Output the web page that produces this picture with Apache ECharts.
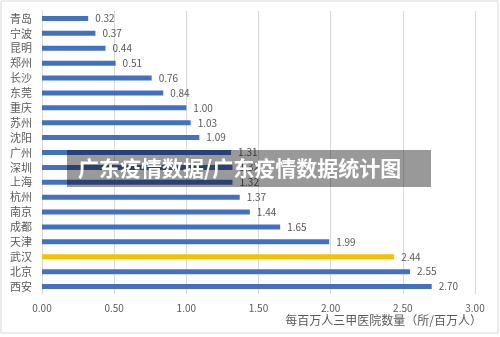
<!DOCTYPE html>
<html>
<head>
<meta charset="utf-8">
<script src="https://cdn.jsdelivr.net/npm/echarts@6/dist/echarts.min.js"></script>
<style>
  html, body { margin: 0; padding: 0; background: #fff; }
  #chart { width: 500px; height: 337px; }
</style>
</head>
<body>
<div id="chart"></div>
<script>
// Cities, top to bottom
const cities = ['青岛','宁波','昆明','郑州','长沙','东莞','重庆','苏州','沈阳','广州','深圳','上海','杭州','南京','成都','天津','武汉','北京','西安'];
// Grade-A tertiary hospitals per million residents
const hospitalsPerMillion = [0.32,0.37,0.44,0.51,0.76,0.84,1.00,1.03,1.09,1.31,1.32,1.32,1.37,1.44,1.65,1.99,2.44,2.55,2.70];
const highlightCity = '武汉';
const axisTitle = '每百万人三甲医院数量（所/百万人）';
const bannerTitle = '广东疫情数据/广东疫情数据统计图';

const BLUE = '#4371c0';
const GOLD = '#f7c000';
const TEXT = '#595959';
const FONT = '"Noto Sans CJK SC", "Noto Sans", sans-serif';

const chart = echarts.init(document.getElementById('chart'), null, { renderer: 'canvas' });

chart.setOption({
  animation: false,
  backgroundColor: '#fff',
  grid: { left: 42, right: 25, top: 11, bottom: 43, containLabel: false },
  xAxis: {
    type: 'value',
    min: 0, max: 3, interval: 0.5,
    axisLine: { show: false },
    axisTick: { show: false },
    splitLine: { show: true, lineStyle: { color: '#d9d9d9', width: 1 } },
    axisLabel: {
      color: TEXT, fontSize: 10, fontFamily: FONT, margin: 9,
      formatter: v => v.toFixed(2)
    }
  },
  yAxis: {
    type: 'category',
    data: cities,
    inverse: true,
    axisLine: { show: true, lineStyle: { color: '#d9d9d9' } },
    axisTick: { show: false },
    axisLabel: { color: TEXT, fontSize: 11, fontFamily: FONT, margin: 10 }
  },
  series: [{
    type: 'bar',
    barWidth: 5,
    data: hospitalsPerMillion.map((v, i) => ({
      value: v,
      itemStyle: { color: cities[i] === highlightCity ? GOLD : BLUE }
    })),
    label: {
      show: true, position: 'right', distance: 7,
      color: TEXT, fontSize: 10, fontFamily: FONT,
      formatter: p => p.value.toFixed(2)
    }
  }],
  graphic: [
    {
      type: 'text', z: 10,
      style: {
        x: 482, y: 320, text: axisTitle,
        textAlign: 'right', textVerticalAlign: 'middle',
        fill: TEXT, font: '12px ' + FONT
      }
    },
    {
      type: 'rect', z: 5, silent: true,
      shape: { x: 1, y: 1, width: 497, height: 332 },
      style: { fill: 'none', stroke: '#d9d9d9', lineWidth: 1 }
    },
    {
      type: 'rect', z: 20,
      shape: { x: 67, y: 150, width: 364, height: 37 },
      style: { fill: 'rgba(0,0,0,0.4)' }
    },
    {
      type: 'text', z: 21,
      style: {
        x: 78, y: 168, text: bannerTitle,
        textAlign: 'left', textVerticalAlign: 'middle',
        fill: '#ffffff', font: 'bold 21px ' + FONT
      }
    }
  ]
});
</script>
</body>
</html>
